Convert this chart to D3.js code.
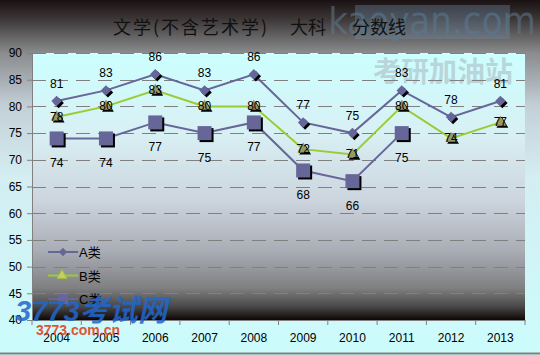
<!DOCTYPE html>
<html><head><meta charset="utf-8">
<script src="https://cdn.jsdelivr.net/npm/d3@7"></script>
<style>html,body{margin:0;padding:0;background:#fff}svg{display:block}</style>
</head><body>
<script>
const years = ["2004","2005","2006","2007","2008","2009","2010","2011","2012","2013"];
const seriesA = [81,83,86,83,86,77,75,83,78,81];
const seriesB = [78,80,83,80,80,72,71,80,74,77];
const seriesC = [74,74,77,75,77,68,66,75,null,null];
const seriesNames = ["A类","B类","C类"];
const yTicks = [40,45,50,55,60,65,70,75,80,85,90];
const titleParts = ["文学(不含艺术学)","大科","分数线"];

const W=540,H=355;
const m={l:32,t:53,r:525,b:320};
const font="'Liberation Sans', Arial, 'Noto Sans CJK SC', sans-serif";
const svg=d3.select("body").append("svg").attr("width",W).attr("height",H);
const defs=svg.append("defs");
const g1=defs.append("linearGradient").attr("id","outer").attr("x1",0).attr("y1",0).attr("x2",0).attr("y2",1);
[[0,"#1a1212"],[0.05,"#3a3434"],[0.15,"#8a8c8e"],[0.3,"#c4d0d8"],[0.5,"#d4eef2"],[1,"#ccfcfc"]].forEach(s=>g1.append("stop").attr("offset",s[0]).attr("stop-color",s[1]));
const g2=defs.append("linearGradient").attr("id","plotbg").attr("x1",0).attr("y1",0).attr("x2",0).attr("y2",1);
[[0,"#ccffff"],[0.3,"#d8f0f4"],[0.55,"#cdd5de"],[0.74,"#a9adb5"],[0.88,"#808082"],[0.95,"#484848"],[1,"#100606"]].forEach(s=>g2.append("stop").attr("offset",s[0]).attr("stop-color",s[1]));

svg.append("rect").attr("width",W).attr("height",H).attr("fill","url(#outer)");
svg.append("line").attr("x1",0).attr("x2",W).attr("y1",353.5).attr("y2",353.5).attr("stroke","#808080").attr("stroke-width",2);
svg.append("rect").attr("x",m.l).attr("y",m.t).attr("width",m.r-m.l).attr("height",m.b-m.t).attr("fill","url(#plotbg)");

// watermarks
svg.append("rect").attr("x",355).attr("y",5).attr("width",155).attr("height",34).attr("fill","#7090a8").attr("opacity",0.35);
svg.append("text").attr("x",432).attr("y",34).attr("text-anchor","middle").attr("font-family","'Liberation Sans Narrow','DejaVu Sans Condensed',sans-serif").attr("font-size",38).attr("fill","#5a7a94").attr("opacity",0.55).text("kaoyan.com");
svg.append("text").attr("x",443).attr("y",82).attr("text-anchor","middle").attr("font-family","'Noto Sans CJK SC',sans-serif").attr("font-weight","bold").attr("font-size",28).attr("fill","#a0a8b0").attr("opacity",0.45).text("考研加油站");

const x=d3.scaleBand().domain(years).range([m.l,m.r]);
const y=d3.scaleLinear().domain([40,90]).range([m.b,m.t]);

// gridlines
svg.append("g").selectAll("line").data(yTicks.filter(v=>v>40)).join("line")
 .attr("x1",m.l).attr("x2",m.r).attr("y1",d=>Math.round(y(d))+0.5).attr("y2",d=>Math.round(y(d))+0.5)
 .attr("stroke","#808080").attr("stroke-width",1).attr("stroke-dasharray","14,8");

// y axis
const ya=svg.append("g").attr("transform",`translate(${m.l},0)`).call(d3.axisLeft(y).tickValues(yTicks).tickSize(5).tickPadding(5));
ya.select(".domain").attr("stroke","#808080");
ya.selectAll(".tick line").attr("stroke","#808080");
ya.selectAll("text").attr("font-family",font).attr("font-size",12).attr("fill","#000");
// x axis
const xa=svg.append("g").attr("transform",`translate(0,${m.b})`).call(d3.axisBottom(x).tickSize(0).tickPadding(13));
xa.select(".domain").attr("stroke","#808080");
xa.selectAll("text").attr("font-family",font).attr("font-size",12).attr("fill","#000");
svg.append("g").selectAll("line").data(d3.range(years.length+1)).join("line")
 .attr("x1",i=>m.l+i*x.step()).attr("x2",i=>m.l+i*x.step()).attr("y1",m.b).attr("y2",m.b+5).attr("stroke","#808080");

// title
const tf="'Noto Sans CJK SC',sans-serif";
svg.append("text").attr("x",113).attr("y",34).attr("font-family",tf).attr("font-size",18).attr("fill","#111").attr("textLength",154).attr("lengthAdjust","spacing").text(titleParts[0]);
svg.append("text").attr("x",290).attr("y",34).attr("font-family",tf).attr("font-size",18).attr("fill","#111").text(titleParts[1]);
svg.append("text").attr("x",352).attr("y",34).attr("font-family",tf).attr("font-size",18).attr("fill","#111").text(titleParts[2]);

const cx=i=>x(years[i])+x.bandwidth()/2;
const purple="#666699", green="#99cc33", olive="#999966";
function drawLine(data,color){
  const line=d3.line().defined(d=>d!=null).x((d,i)=>cx(i)).y(d=>y(d));
  svg.append("path").datum(data).attr("d",line).attr("fill","none").attr("stroke",color).attr("stroke-width",2);
}
drawLine(seriesA,purple);
drawLine(seriesB,green);
drawLine(seriesC,purple);

const diamond=d3.symbol().type(d3.symbolDiamond2).size(70);
const tri=d3.symbol().type(d3.symbolTriangle).size(60);
function markers(data,pathGen,fill,sq){
  const pts=data.map((v,i)=>({v,i})).filter(d=>d.v!=null);
  const g=svg.append("g");
  pts.forEach(p=>{
    const px=cx(p.i),py=y(p.v);
    if(sq){
      g.append("rect").attr("x",px-7+2).attr("y",py-7+2).attr("width",14).attr("height",14).attr("fill","#000");
      g.append("rect").attr("x",px-7).attr("y",py-7).attr("width",14).attr("height",14).attr("fill",fill);
    } else {
      g.append("path").attr("d",pathGen()).attr("transform",`translate(${px+2},${py+2})`).attr("fill","#000");
      g.append("path").attr("d",pathGen()).attr("transform",`translate(${px},${py})`).attr("fill",fill);
    }
  });
}
markers(seriesA,diamond,purple,false);
markers(seriesB,tri,olive,false);
markers(seriesC,null,purple,true);

function labels(data,dy){
  svg.append("g").selectAll("text").data(data.map((v,i)=>({v,i})).filter(d=>d.v!=null)).join("text")
   .attr("x",d=>cx(d.i)).attr("y",d=>y(d.v)+dy).attr("text-anchor","middle")
   .attr("font-family",font).attr("font-size",12).attr("fill","#000").text(d=>d.v);
}
labels(seriesA,-13);
labels(seriesB,4);
labels(seriesC,29);

// legend
const leg=[{n:seriesNames[0],c:purple,s:"d"},{n:seriesNames[1],c:green,s:"t"},{n:seriesNames[2],c:purple,s:"s"}];
leg.forEach((l,k)=>{
  const ly=252+k*23.5;
  svg.append("line").attr("x1",48).attr("x2",78).attr("y1",ly).attr("y2",ly).attr("stroke",l.c).attr("stroke-width",2);
  if(l.s==="d") svg.append("path").attr("d",d3.symbol().type(d3.symbolDiamond2).size(45)()).attr("transform",`translate(63,${ly})`).attr("fill",purple);
  else if(l.s==="t") svg.append("path").attr("d",d3.symbol().type(d3.symbolTriangle).size(40)()).attr("transform",`translate(62,${ly})`).attr("fill","#cccc66").attr("stroke",green);
  else svg.append("rect").attr("x",58).attr("y",ly-5).attr("width",10).attr("height",10).attr("fill",purple);
  svg.append("text").attr("x",79).attr("y",ly+5).attr("font-family",font).attr("font-size",13).attr("fill","#000").text(l.n);
});

// bottom-left watermark
svg.append("text").attr("x",15).attr("y",321).attr("font-family","'Liberation Sans','Noto Sans CJK SC',sans-serif").attr("font-weight","bold").attr("font-style","italic").attr("font-size",30).attr("fill","#2266cc").attr("opacity",0.85).attr("textLength",152).attr("lengthAdjust","spacingAndGlyphs").text("3773考试网");
svg.append("text").attr("x",36).attr("y",335).attr("font-family","'Liberation Sans',sans-serif").attr("font-weight","bold").attr("font-size",14).attr("fill","#e04420").attr("opacity",0.9).text("3773.com.cn");
</script>
</body></html>
